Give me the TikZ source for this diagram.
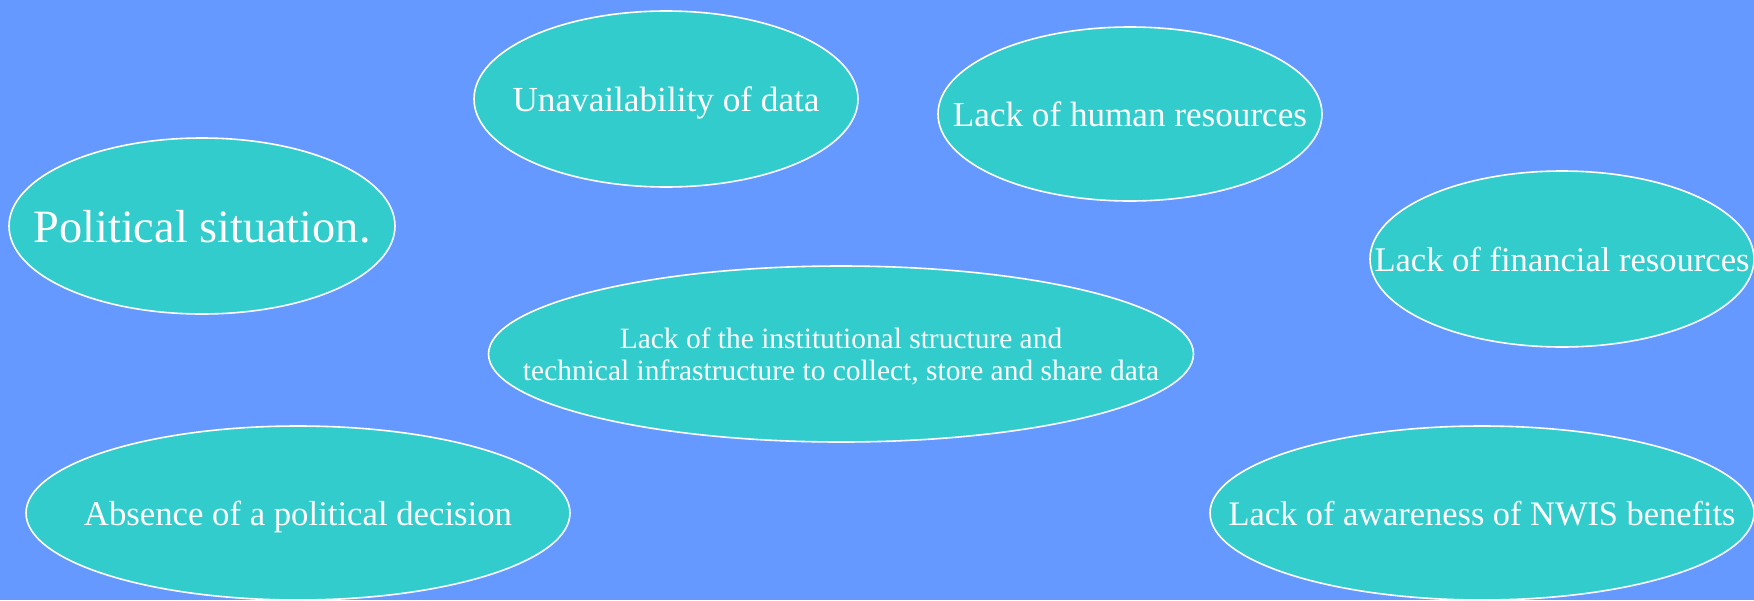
\documentclass[tikz,border=0pt]{standalone}
\usepackage{fontspec}
\setmainfont{Liberation Serif}
\usetikzlibrary{shapes.geometric}
\definecolor{bgc}{HTML}{6699FF}
\definecolor{tealc}{HTML}{33CCCC}
\newcommand{\fitw}[2]{\resizebox{#1}{!}{#2}}
\begin{document}
\begin{tikzpicture}[x=0.5pt,y=-0.5pt,
  blob/.style={ellipse, draw=white, line width=0.8pt, fill=tealc, inner sep=0pt},
  lblbase/.style={text=white, inner sep=0pt, align=center},
  lbl/.style={lblbase, text depth=0pt}]
\fill[bgc] (0,0) rectangle (1754,600);
\useasboundingbox (0,0) rectangle (1754,600);

\node[blob, minimum width=192pt, minimum height=88pt] (unav) at (666,99) {};
\node[lbl] (unavt) at (unav) {\fitw{153.5pt}{Unavailability of data}};

\node[blob, minimum width=192pt, minimum height=87pt] (human) at (1130,114) {};
\node[lbl] (humant) at (human) {\fitw{177pt}{Lack of human resources}};

\node[blob, minimum width=193pt, minimum height=88pt] (polit) at (202,226) {};
\node[lbl] (politt) at (polit) {\fitw{168.5pt}{Political situation.}};

\node[blob, minimum width=192pt, minimum height=88pt] (fin) at (1562,259) {};
\node[lbl] (fint) at (fin) {\fitw{187.5pt}{Lack of financial resources}};

\node[blob, minimum width=352.5pt, minimum height=88pt] (inst) at (841,354) {};
\node[lblbase, yshift=-1.7pt] (instt) at (inst) {\fitw{318pt}{\begin{tabular}{@{}c@{}}Lack of the institutional structure and\\[-1pt] technical infrastructure to collect, store and share data\end{tabular}}};

\node[blob, minimum width=272pt, minimum height=87pt] (absn) at (298,513) {};
\node[lbl] (absnt) at (absn) {\fitw{214pt}{Absence of a political decision}};

\node[blob, minimum width=272pt, minimum height=87pt] (aware) at (1482,513) {};
\node[lbl] (awaret) at (aware) {\fitw{253.5pt}{Lack of awareness of NWIS benefits}};
\end{tikzpicture}
\end{document}
